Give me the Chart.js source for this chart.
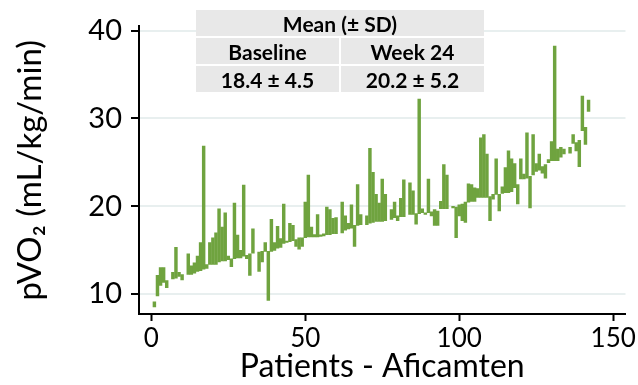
<!DOCTYPE html>
<html>
<head>
<meta charset="utf-8">
<script src="https://cdn.jsdelivr.net/npm/chart.js@4.4.1/dist/chart.umd.min.js"></script>
<style>
    body { margin: 0; background: #fff; }
    #wrap { position: relative; width: 638px; height: 385px; }
    #stats {
        position: absolute; left: 196px; top: 10px; width: 288px;
        display: grid; grid-template-columns: 143px 143px; gap: 2px;
        font-family: Lato, sans-serif; font-weight: bold; font-size: 21px; color: #000;
    }
    #stats div { background: #e8e8e8; height: 26px; line-height: 27px; text-align: center; }
    #stats .full { grid-column: 1 / 3; }
</style>
</head>
<body>
<div id="wrap">
    <canvas id="grafico" width="638" height="385"></canvas>
    <div id="stats">
        <div class="full">Mean (± SD)</div>
        <div>Baseline</div>
        <div>Week 24</div>
        <div>18.4 ± 4.5</div>
        <div>20.2 ± 5.2</div>
    </div>
</div>
<script>
// patient number on the x axis, one entry per patient
const pacientes = [
    1, 2, 3, 4, 5, 6, 7, 8, 9, 10, 11, 12, 13, 14, 15, 16, 17, 18, 19, 20,
    21, 22, 23, 24, 25, 26, 27, 28, 29, 30, 31, 32, 33, 34, 35, 36, 37, 38, 39, 40,
    41, 42, 43, 44, 45, 46, 47, 48, 49, 50, 51, 52, 53, 54, 55, 56, 57, 58, 59, 60,
    61, 62, 63, 64, 65, 66, 67, 68, 69, 70, 71, 72, 73, 74, 75, 76, 77, 78, 79, 80,
    81, 82, 83, 84, 85, 86, 87, 88, 89, 90, 91, 92, 93, 94, 95, 96, 97, 98, 99, 100,
    101, 102, 103, 104, 105, 106, 107, 108, 109, 110, 111, 112, 113, 114, 115, 116, 117, 118, 119, 120,
    121, 122, 123, 124, 125, 126, 127, 128, 129, 130, 131, 132, 133, 134, 135, 136, 137, 138, 139, 140,
    141, 142
];
// lower and upper end of each bar (pVO2, mL/kg/min); null = no visible bar
const pvo2Bajo = [
    8.5, 9.75, 10.95, 11.3, 10.7, null, 11.7, 11.8, 12.0, 11.6,
    null, 12.2, 12.2, 12.35, 12.55, 12.65, 12.8, 12.9, 13.35, 13.35,
    13.35, 13.65, 13.75, 13.75, 13.9, 13.1, 14.0, 14.1, 14.1, 14.3,
    14.0, 12.1, 14.65, null, 12.55, 13.65, 14.85, 9.25, 14.85, 14.95,
    15.2, 15.3, 15.75, 15.85, 15.95, 16.05, 15.4, 15.1, 15.4, 16.4,
    16.5, 16.5, 16.5, 16.5, 16.55, 16.6, 16.75, 16.75, 16.85, 16.85,
    null, 16.95, 17.25, 17.4, 17.5, 15.4, 17.8, 17.9, null, 17.9,
    18.05, 18.15, 18.25, 18.25, 18.25, 18.35, null, 18.5, 18.7, 18.35,
    18.8, 18.8, null, 19.05, 19.05, 17.95, 19.15, 19.25, 19.05, 19.25,
    18.9, 17.8, 17.8, 19.7, 19.7, 19.7, null, 19.8, 16.4, 18.9,
    18.35, 18.15, 20.45, 20.55, 20.55, 21.0, 21.0, 21.0, 21.0, 18.35,
    20.8, 21.35, 19.45, 21.45, 21.55, 21.55, 21.65, 22.1, 20.25, 23.1,
    23.1, 23.2, 19.8, 23.55, 23.95, 24.1, 23.75, 23.2, 24.95, 25.2,
    25.2, 25.2, 25.6, 25.95, null, 26.05, 27.15, 26.3, 24.5, 28.6,
    27.05, 30.8
];
const pvo2Alto = [
    9.1, 12.1, 13.0, 13.0, 11.5, null, 12.45, 15.3, 12.45, 12.2,
    null, 14.55, 13.2, 13.55, 14.3, 15.85, 26.85, 13.35, 15.85, 16.4,
    16.95, 19.7, 17.6, 19.25, 14.3, 14.0, 20.35, 16.7, 14.95, 22.4,
    14.4, 14.55, 17.4, null, 14.75, 14.85, 15.85, 14.85, 18.5, 15.85,
    17.7, 16.3, 20.25, 15.95, 18.05, 17.8, 16.2, 16.4, 16.4, 20.45,
    23.55, 17.6, 16.75, 19.05, 16.65, 16.85, 19.9, 19.6, 18.6, 18.7,
    null, 20.45, 18.9, 18.05, 20.15, 17.8, 22.45, 19.05, null, 18.9,
    26.6, 23.85, 21.35, 20.35, 23.1, 21.35, null, 19.6, 20.45, 18.9,
    20.9, 23.0, null, 22.65, 21.75, 19.15, 32.2, 19.7, 19.25, 23.1,
    19.35, 19.6, 19.45, 20.55, 24.75, 23.55, null, 19.9, 19.9, 20.15,
    20.25, 20.45, 22.55, 22.45, 22.1, 22.0, 27.8, 28.15, 25.95, 21.1,
    21.35, 25.4, 21.35, 22.2, 24.4, 26.3, 25.4, 24.85, 22.45, 25.4,
    23.65, 28.35, 23.4, 28.15, 24.85, 25.95, 24.5, 24.75, 25.3, 27.35,
    38.25, 26.5, 26.7, 26.5, null, 26.7, 28.15, 27.25, 27.5, 32.55,
    29.0, 32.1
];
const ticksX = [0, 50, 100, 150];
const ticksY = [10, 20, 30, 40];

const verde = "#6fa33f";
const fuente = "Lato, 'Noto Sans', sans-serif";

let barras = [];
for (let i = 0; i < pacientes.length; i++) {
    if (pvo2Bajo[i] == null) continue;
    barras.push({ x: pacientes[i], y: [pvo2Bajo[i], pvo2Alto[i]] });
}

const ctx = document.getElementById("grafico").getContext("2d");
const myChart = new Chart(ctx, {
    type: "bar",
    data: {
        datasets: [{
            data: barras,
            backgroundColor: verde,
            borderWidth: 0,
            barThickness: 2.8,
            minBarLength: 1.5,
        }],
    },
    options: {
        responsive: false,
        animation: false,
        layout: { padding: { top: 15, right: 8, left: 0, bottom: 0 } },
        plugins: {
            legend: { display: false },
            tooltip: { enabled: false },
        },
        scales: {
            x: {
                type: "linear",
                min: -4,
                max: 154,
                offset: false,
                afterBuildTicks: function(s) { s.ticks = ticksX.map(v => ({ value: v })); },
                afterFit: function(s) { s.height = 71; },
                grid: { offset: false, drawOnChartArea: false, tickLength: 7, tickWidth: 2, tickColor: "#000" },
                border: { color: "#000", width: 2 },
                ticks: { font: { family: fuente, size: 26 }, color: "#000", padding: 2, maxRotation: 0 },
                title: {
                    display: true,
                    text: "Patients - Aficamten",
                    font: { family: fuente, size: 32 },
                    color: "#000",
                    padding: { top: 0, bottom: -1 },
                },
            },
            y: {
                min: 7.7,
                max: 40.5,
                afterBuildTicks: function(s) { s.ticks = ticksY.map(v => ({ value: v })); },
                afterFit: function(s) { s.width = 139; },
                grid: { color: "#e8efef", lineWidth: 2, tickColor: "#000", tickLength: 8, tickWidth: 2 },
                border: { color: "#000", width: 2 },
                ticks: { font: { family: fuente, size: 29 }, color: "#000", padding: 9 },
                title: {
                    display: true,
                    text: "pVO₂ (mL/kg/min)",
                    font: { family: fuente, size: 33 },
                    color: "#000",
                    padding: { top: 11, bottom: 0 },
                },
            },
        },
    },
});
</script>
</body>
</html>
